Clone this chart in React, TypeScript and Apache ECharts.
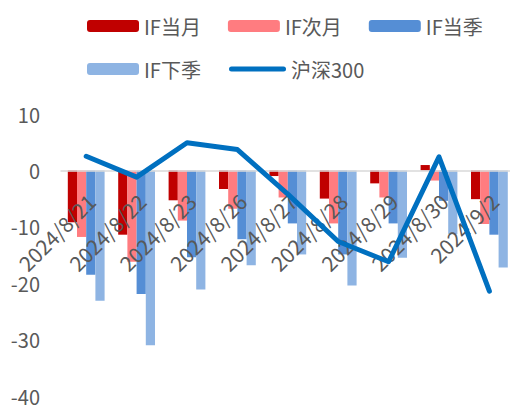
import React, { useEffect, useRef } from "react";
import * as echarts from "echarts";

const categories = ["2024/8/21", "2024/8/22", "2024/8/23", "2024/8/26", "2024/8/27", "2024/8/28", "2024/8/29", "2024/8/30", "2024/9/2"];
const ifCurrentMonth = [-9.2, -11.4, -5.3, -3.3, -1.0, -5.0, -2.3, 0.95, -5.1];
const ifNextMonth = [-11.8, -16.2, -8.9, -6.8, -4.8, -9.4, -4.8, -1.8, -9.5];
const ifCurrentQuarter = [-18.5, -21.9, -15.4, -12.2, -9.4, -14.9, -9.4, -5.4, -11.4];
const ifNextQuarter = [-23.1, -31.0, -21.1, -16.8, -14.9, -20.4, -15.5, -11.3, -17.2];
const hs300 = [2.5, -1.2, 4.9, 3.7, -4.2, -12.6, -16.2, 2.4, -21.4];

const Y_MIN = -40;
const Y_MAX = 10;
const FONT = "'Noto Sans CJK SC', 'Noto Sans', sans-serif";
const TEXT = "#595959";
const LINE_ICON = "path://M2.5,0 H54.5 A2.5,2.5 0 0 1 54.5,5 H2.5 A2.5,2.5 0 0 1 2.5,0 Z";

export default function App() {
  const ref = useRef<HTMLDivElement>(null);
  useEffect(() => {
    if (!ref.current) return;
    const chart = echarts.init(ref.current, undefined, { renderer: "svg" });
    const bar = (name: string, data: number[], color: string) => ({
      name,
      type: "bar",
      data,
      barWidth: 9.2,
      barGap: "0%",
      itemStyle: { color },
      z: 2,
    });
    const legendText = { color: TEXT, fontSize: 20, fontFamily: FONT };
    chart.setOption({
      animation: false,
      textStyle: { fontFamily: FONT },
      legend: [
        {
          data: ["IF当月", "IF次月", "IF当季"],
          left: 82,
          top: 11,
          itemWidth: 52,
          itemHeight: 12,
          itemGap: 27,
          textStyle: legendText,
        },
        {
          data: ["IF下季"],
          left: 82,
          top: 54,
          itemWidth: 52,
          itemHeight: 12,
          textStyle: legendText,
        },
        {
          data: [{ name: "沪深300", icon: LINE_ICON }],
          left: 224,
          top: 54,
          itemWidth: 57,
          itemHeight: 12,
          itemGap: 2,
          textStyle: legendText,
        },
      ],
      grid: { left: 61, right: -4.6, top: 114, bottom: 11, containLabel: false, outerBoundsMode: "none" },
      xAxis: {
        type: "category",
        data: categories,
        z: 5,
        axisLine: { onZero: true, lineStyle: { color: "#d9d9d9", width: 1.5 } },
        axisTick: { show: false },
        axisLabel: { show: false },
      },
      yAxis: {
        type: "value",
        min: Y_MIN,
        max: Y_MAX,
        interval: 10,
        splitLine: { show: false },
        axisLine: { show: false },
        axisTick: { show: false },
        axisLabel: { color: TEXT, fontSize: 20, fontFamily: FONT, margin: 21 },
      },
      series: [
        bar("IF当月", ifCurrentMonth, "#C00000"),
        bar("IF次月", ifNextMonth, "#FF7C80"),
        bar("IF当季", ifCurrentQuarter, "#558ED5"),
        bar("IF下季", ifNextQuarter, "#8EB4E3"),
        {
          name: "沪深300",
          type: "line",
          data: hs300,
          symbol: "none",
          z: 10,
          lineStyle: { color: "#0070C0", width: 5, cap: "round", join: "round" },
          itemStyle: { color: "#0070C0" },
        },
      ],
    });
    // category labels, rotated 45°, hanging below the zero line (placed through the axis scales)
    const zeroY = chart.convertToPixel({ yAxisIndex: 0 }, 0) as number;
    chart.setOption({
      graphic: categories.map((c) => {
        const cx = chart.convertToPixel({ xAxisIndex: 0 }, c) as number;
        return {
          type: "text",
          x: cx + 5,
          y: zeroY + 27,
          rotation: Math.PI / 4,
          z: 5,
          style: {
            text: c,
            fill: TEXT,
            fontSize: 21,
            fontFamily: FONT,
            align: "right",
            verticalAlign: "middle",
          },
        };
      }),
    });
    return () => chart.dispose();
  }, []);
  return (
    <div
      ref={ref}
      style={{ position: "fixed", left: 0, top: 0, width: 510, height: 407, background: "#fff" }}
    />
  );
}
